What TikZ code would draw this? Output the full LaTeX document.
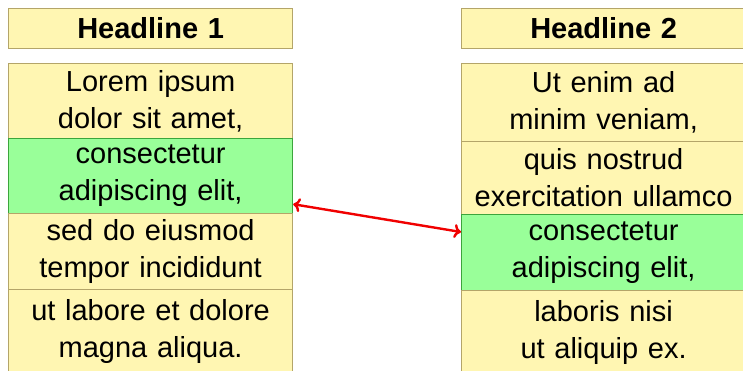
\documentclass[tikz,border=0pt]{standalone}
\usepackage{fontspec}
\setmainfont{Liberation Sans}
\usetikzlibrary{calc,arrows.meta}
\definecolor{cellyellow}{RGB}{255,246,178}
\definecolor{cellborder}{RGB}{180,165,105}
\definecolor{cellgreen}{RGB}{153,255,153}
\definecolor{greenborder}{RGB}{60,165,60}
\definecolor{arrowred}{RGB}{240,0,0}
\begin{document}
\begin{tikzpicture}[x=1pt,y=-1pt,
  cell/.style={draw=cellborder, fill=cellyellow, line width=1.2pt, minimum width=284pt,
    inner sep=0pt, align=center, text width=280pt, anchor=north west,
    font=\fontsize{29}{37}\selectfont},
  headcell/.style={cell, minimum height=40pt, font=\fontsize{29}{35}\selectfont\bfseries},
  hicell/.style={fill=cellgreen, draw=greenborder},
  link/.style={draw=arrowred, line width=2.4pt, {To[length=7pt,width=14pt]}-{To[length=7pt,width=14pt]}}
]
\useasboundingbox (0,0) rectangle (743,370);
% left column
\node[headcell] (h1) at (8,8) {Headline 1};
\node[cell, minimum height=75pt] (l1) at (8,63) {Lorem ipsum\\dolor sit amet,};
\node[cell, hicell, minimum height=75pt] (l2) at (8,138) {consectetur\\adipiscing elit,};
\node[cell, minimum height=76pt] (l3) at (8,213) {sed do eiusmod\\tempor incididunt};
\node[cell, minimum height=84pt] (l4) at (8,289) {ut labore et dolore\\magna aliqua.};
% right column
\node[headcell] (h2) at (461,8) {Headline 2};
\node[cell, minimum height=78pt] (r1) at (461,63) {Ut enim ad\\minim veniam,};
\node[cell, minimum height=73pt] (r2) at (461,141) {quis nostrud\\exercitation ullamco};
\node[cell, hicell, minimum height=76pt] (r3) at (461,214) {consectetur\\adipiscing elit,};
\node[cell, minimum height=84pt] (r4) at (461,290) {laboris nisi\\ut aliquip ex.};
% link
\coordinate (la) at ($(l2.south east)+(0,10pt)$);
\coordinate (ra) at ($(r3.north west)+(0,-18pt)$);
\draw[link] (la) -- (ra);
\end{tikzpicture}
\end{document}
